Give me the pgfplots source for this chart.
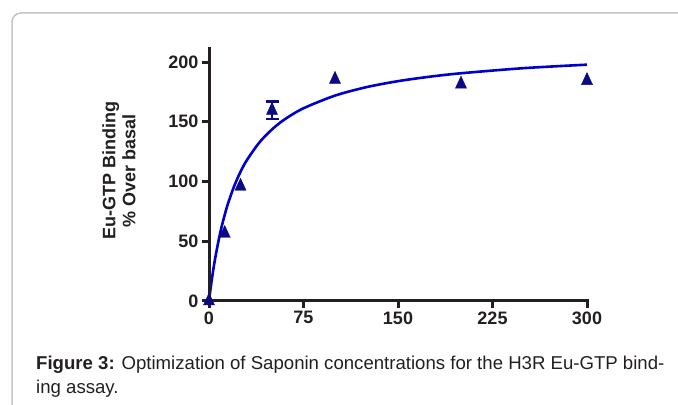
\documentclass[border=0pt]{standalone}
\usepackage{pgfplots}
\pgfplotsset{compat=1.18}
\usepackage{fontspec}
\setmainfont{Liberation Sans}
\definecolor{axisblack}{HTML}{231F20}
\definecolor{markblue}{HTML}{0A0A82}
\definecolor{curveblue}{HTML}{0000C8}
\definecolor{boxgray}{HTML}{C4C4C4}
\definecolor{captext}{HTML}{231F20}
\begin{document}
\begin{tikzpicture}
\useasboundingbox (0,0) rectangle (678bp,405bp);
% frame
\draw[boxgray, line width=1.5bp, rounded corners=9bp] (12bp,-5bp) -- (12bp,392bp) -- (690bp,392bp);
\begin{axis}[
  at={(209bp,104bp)}, anchor=origin,
  scale only axis, width=378bp, height=252.1bp,
  xmin=0, xmax=300, ymin=0, ymax=211,
  axis lines*=left,
  axis line style={line width=3bp, axisblack, line cap=rect},
  xtick={0,75,150,225,300},
  ytick={0,50,100,150,200},
  tick align=outside,
  major tick length=7bp,
  tick style={line width=3bp, axisblack},
  /pgf/number format/assume math mode=true,
  ticklabel style={font=\fontsize{18bp}{20bp}\selectfont\bfseries, text=axisblack},
  ylabel={Eu-GTP Binding\\\% Over basal},
  ylabel style={font=\fontsize{18bp}{20bp}\selectfont\bfseries, align=center, text=axisblack,
     at={(axis description cs:-0.238,0.516)}, anchor=center},
  clip=false,
  axis on top,
]
\addplot[curveblue, line width=2.6bp, smooth] coordinates {
 (0,0) (1,8.4) (2,16.2) (3.5,26.8) (5,36.3) (7.5,50.1) (10,62.0) (12.5,72.2) (15,81.3) (20,96.2)
 (25,108.1) (30,117.8) (40,132.7) (50,143.6) (60,152.0) (75,161.3) (100,171.9)
 (125,179.0) (150,184.0) (175,187.7) (200,190.6) (250,194.9) (300,197.8)
};
\addplot[only marks, mark=triangle*, mark size=8bp, mark options={xscale=0.8, fill=markblue, draw=markblue}]
 coordinates {
 (0,0)
 (12.5,56.5)
 (25,96)
 (100,185.5)
 (200,181.5)
 (300,184.5)
};
\addplot[only marks, mark=triangle*, mark size=8bp, mark options={xscale=0.8, fill=markblue, draw=markblue},
  error bars/.cd, y dir=both, y explicit,
  error bar style={line width=2.2bp, markblue},
  error mark options={rotate=90, mark size=6.5bp, line width=2.2bp, markblue}]
 coordinates {
 (50,159.5) +- (0,7.5)
};
\end{axis}
\node[anchor=base west, inner sep=0pt, text=captext, font=\fontsize{18.6bp}{22bp}\selectfont] at (36bp,36bp)
 {\textbf{Figure 3:} Optimization of Saponin concentrations for the H3R Eu-GTP bind-};
\node[anchor=base west, inner sep=0pt, text=captext, font=\fontsize{18.6bp}{22bp}\selectfont] at (36bp,12bp)
 {ing assay.};
\end{tikzpicture}
\end{document}
